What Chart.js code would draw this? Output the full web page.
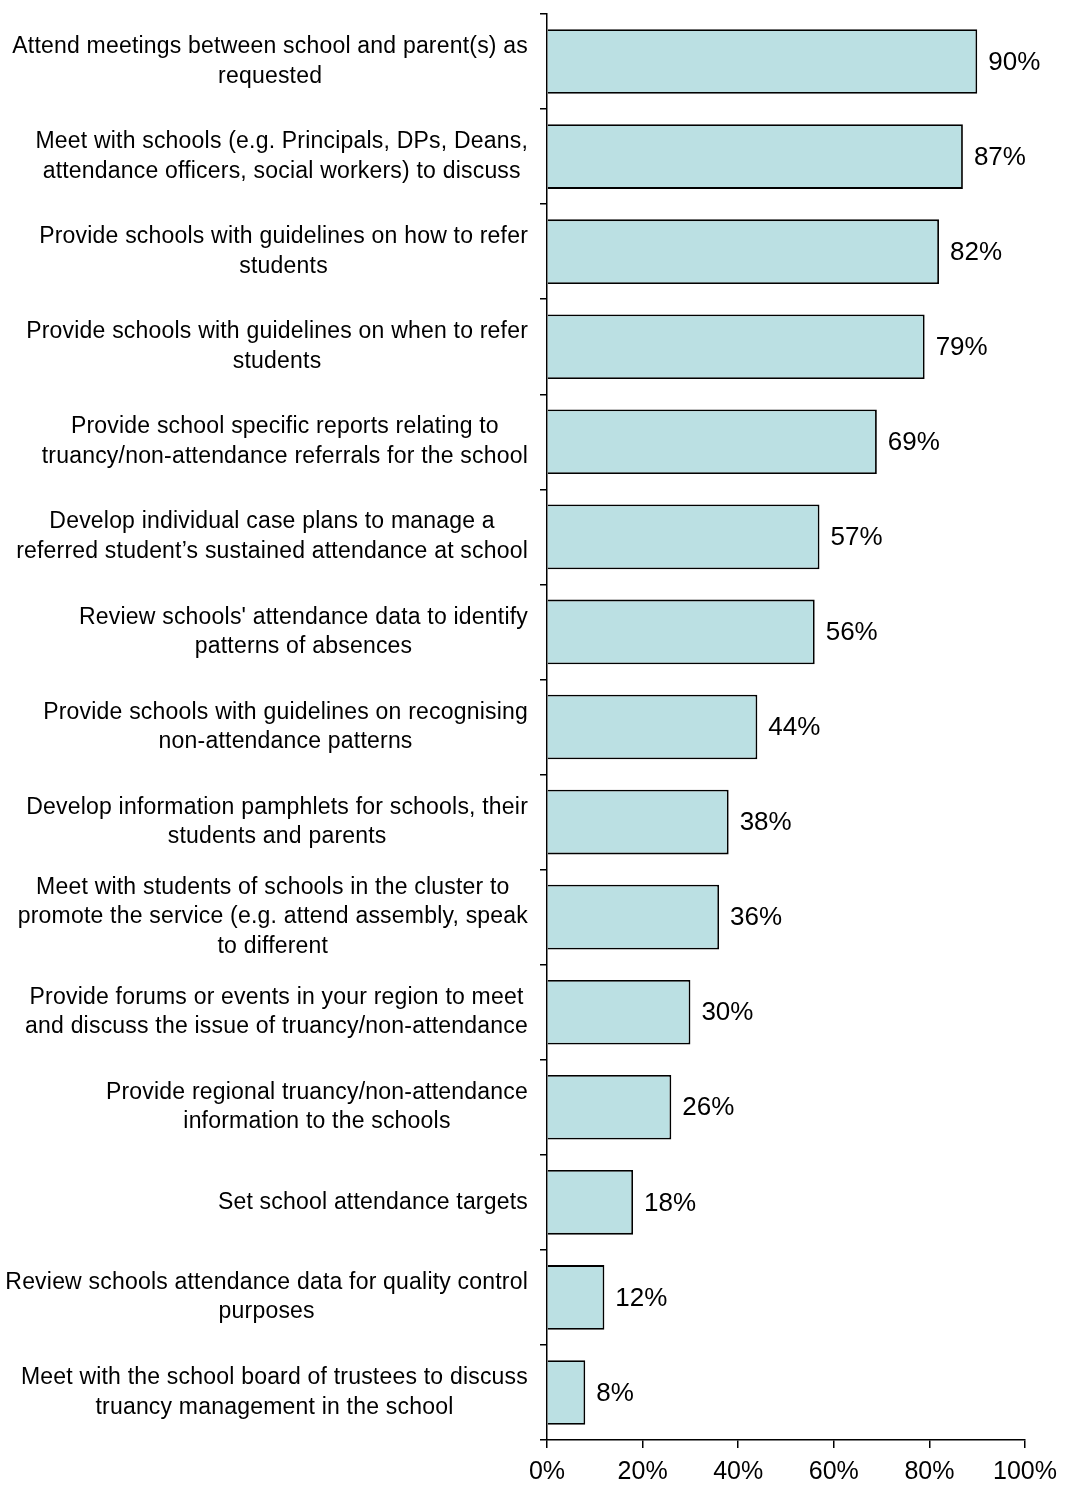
<!DOCTYPE html>
<html>
<head>
<meta charset="utf-8">
<title>Service activities</title>
<script src="https://cdn.jsdelivr.net/npm/chart.js@4.4.0/dist/chart.umd.min.js"></script>
<style>
  body { margin: 0; background: #fff; }
  #grafico { display: block; }
</style>
</head>
<body>
<canvas id="grafico" width="1066" height="1490"></canvas>
<script>
// Activity labels (one entry per line of text)
const categories = [
    ['Attend meetings between school and parent(s) as', 'requested'],
    ['Meet with schools (e.g. Principals, DPs, Deans,', 'attendance officers, social workers) to discuss'],
    ['Provide schools with guidelines on how to refer', 'students'],
    ['Provide schools with guidelines on when to refer', 'students'],
    ['Provide school specific reports relating to', 'truancy/non-attendance referrals for the school'],
    ['Develop individual case plans to manage a', 'referred student\u2019s sustained attendance at school'],
    ["Review schools' attendance data to identify", 'patterns of absences'],
    ['Provide schools with guidelines on recognising', 'non-attendance patterns'],
    ['Develop information pamphlets for schools, their', 'students and parents'],
    ['Meet with students of schools in the cluster to', 'promote the service (e.g. attend assembly, speak', 'to different'],
    ['Provide forums or events in your region to meet', 'and discuss the issue of truancy/non-attendance'],
    ['Provide regional truancy/non-attendance', 'information to the schools'],
    ['Set school attendance targets'],
    ['Review schools attendance data for quality control', 'purposes'],
    ['Meet with the school board of trustees to discuss', 'truancy management in the school']
];

// Percentages
const values = [90, 87, 82, 79, 69, 57, 56, 44, 38, 36, 30, 26, 18, 12, 8];

// x axis ticks
const xTicks = [0, 20, 40, 60, 80, 100];

const fuente = '"Liberation Sans", Arial, Helvetica, sans-serif';

// Category labels (centred per block) and value labels next to the bars
const etiquetasPlugin = {
    id: 'etiquetas',
    afterDraw(chart) {
        const ctx = chart.ctx;
        const yScale = chart.scales.y;
        ctx.save();
        ctx.fillStyle = '#000';
        ctx.textBaseline = 'middle';
        ctx.textAlign = 'center';
        ctx.font = '23px ' + fuente;
        ctx.letterSpacing = '0.2px';
        categories.forEach((lines, i) => {
            const y = yScale.getPixelForValue(i);
            const ancho = Math.max(...lines.map(l => ctx.measureText(l).width));
            const cx = yScale.right - 19 - ancho / 2;
            lines.forEach((l, j) => {
                ctx.fillText(l, cx, y + (j - (lines.length - 1) / 2) * 29.5);
            });
        });

        ctx.letterSpacing = '0px';
        ctx.textAlign = 'left';
        ctx.font = '26px ' + fuente;
        const meta = chart.getDatasetMeta(0);
        meta.data.forEach((bar, i) => {
            ctx.fillText(values[i] + '%', bar.x + 11, bar.y + 1);
        });
        ctx.restore();
    }
};

const ctx = document.getElementById('grafico').getContext('2d');

const myChart = new Chart(ctx, {
    type: 'bar',
    data: {
        labels: categories,
        datasets: [{
            data: values,
            backgroundColor: '#bbe0e3',
            borderColor: '#000',
            borderWidth: 1.8,
            categoryPercentage: 1,
            barPercentage: 0.68
        }]
    },
    options: {
        indexAxis: 'y',
        responsive: false,
        animation: false,
        layout: {
            padding: { top: 14, right: 40, left: 0, bottom: 0 }
        },
        plugins: {
            legend: { display: false },
            tooltip: { enabled: false }
        },
        scales: {
            x: {
                min: 0,
                max: 100,
                afterBuildTicks: (scale) => {
                    scale.ticks = xTicks.map(v => ({ value: v }));
                },
                afterFit: (scale) => { scale.height = 50; },
                ticks: {
                    callback: (v) => v + '%',
                    color: '#000',
                    padding: 9,
                    maxRotation: 0,
                    font: { family: fuente, size: 25 }
                },
                grid: {
                    drawOnChartArea: false,
                    tickLength: 8,
                    color: '#000',
                    lineWidth: 1.5
                },
                border: { color: '#000', width: 1.5 }
            },
            y: {
                afterFit: (scale) => { scale.width = 547; },
                ticks: { display: false },
                grid: {
                    drawOnChartArea: false,
                    offset: true,
                    tickLength: 7,
                    color: '#000',
                    lineWidth: 1.5
                },
                border: { color: '#000', width: 1.5 }
            }
        }
    },
    plugins: [etiquetasPlugin]
});
</script>
</body>
</html>
